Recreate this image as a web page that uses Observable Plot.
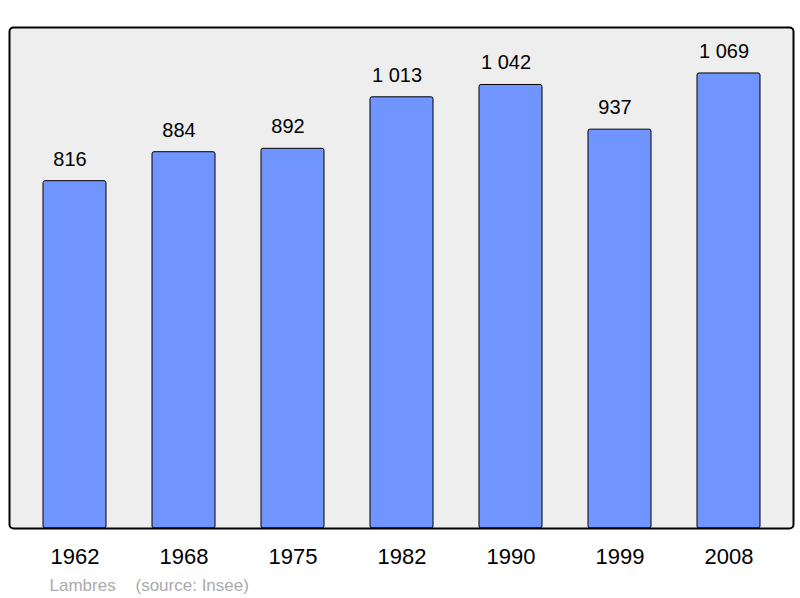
<!DOCTYPE html>
<html>
<head>
<meta charset="utf-8">
<script src="https://cdn.jsdelivr.net/npm/d3@7"></script>
<script src="https://cdn.jsdelivr.net/npm/@observablehq/plot@0.6"></script>
<style>
  html, body { margin: 0; padding: 0; background: #fff; }
</style>
</head>
<body>
<div id="chart"></div>
<script>
const years = ["1962", "1968", "1975", "1982", "1990", "1999", "2008"];
const population = [816, 884, 892, 1013, 1042, 937, 1069];
const townName = "Lambres";
const sourceText = "(source: Insee)";

const data = years.map((year, i) => ({year, value: population[i]}));
const fmt = v => d3.format(",")(v).replace(/,/g, " ");

const chart = Plot.plot({
  width: 800,
  height: 598,
  marginLeft: 9,
  marginRight: 7,
  marginTop: 27,
  marginBottom: 70,
  style: {fontFamily: "'Liberation Sans', Arial, sans-serif", background: "#fff"},
  x: {domain: years, paddingInner: 0.425, paddingOuter: 0.3, label: null},
  y: {domain: [0, 1177], axis: null},
  marks: [
    Plot.frame({fill: "#eeeeee", rx: 4}),
    Plot.barY(data, {x: "year", y: "value", fill: "#7095ff", stroke: "#000", strokeWidth: 1, rx: 2}),
    Plot.frame({stroke: "#000", strokeWidth: 2, rx: 4}),
    Plot.text(data, {x: "year", y: "value", text: d => fmt(d.value), dx: -5, dy: -22, fontSize: 20, fill: "#000"}),
    Plot.axisX({tickSize: 0, tickPadding: 20, fontSize: 22, color: "#000", label: null}),
    Plot.text([townName], {frameAnchor: "bottom-left", lineAnchor: "middle", text: d => d, dx: 40, dy: 57, fontSize: 17, fill: "#aaaaaa", textAnchor: "start"}),
    Plot.text([sourceText], {frameAnchor: "bottom-left", lineAnchor: "middle", text: d => d, dx: 126, dy: 57, fontSize: 17, fill: "#aaaaaa", textAnchor: "start"})
  ]
});
document.getElementById("chart").appendChild(chart);
</script>
</body>
</html>
